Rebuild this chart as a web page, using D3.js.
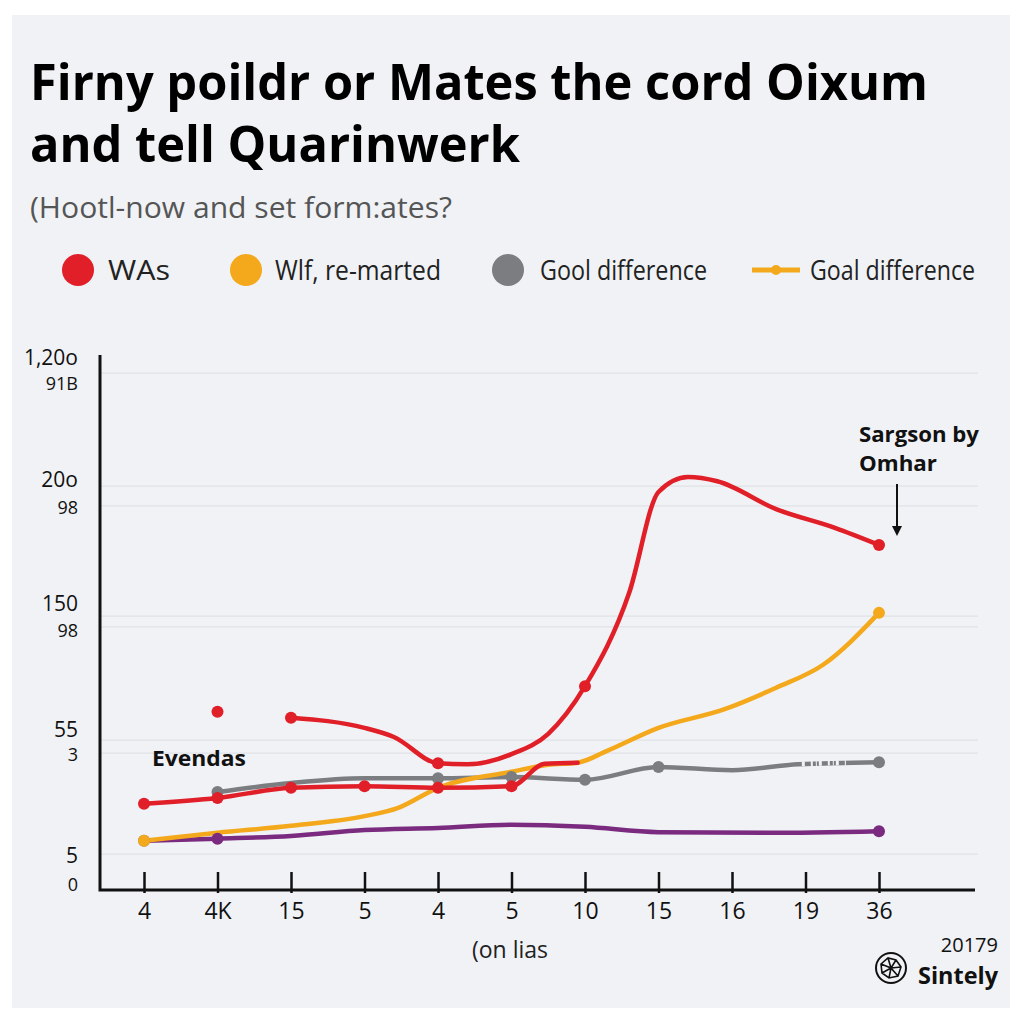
<!DOCTYPE html>
<html><head><meta charset="utf-8">
<script src="https://cdn.jsdelivr.net/npm/d3@7"></script>
<style>html,body{margin:0;padding:0;background:#fff;}svg{display:block;}</style>
</head><body>
<svg id="c" width="1024" height="1024"></svg>
<script>
// ---- data ----
const xLabels = ["4","4K","15","5","4","5","10","15","16","19","36"];
const yTickValues = [96.6, 75.5, 71.8, 51.2, 49.2, 28.0, 25.6, 6.7];
const yTickLabelsUpper = ["1,20o","20o","150","55","5"];
const yTickLabelsLower = ["91B","98","98","3","0"];
const yLabelUpperValues = [99.5, 76.6, 53.5, 29.9, 6.3];
const yLabelLowerValues = [95.0, 71.8, 48.8, 25.6, 1.3];
// series: [index, value]
const redUpper = [[2,32.2],[3,30.3],[3.4,28.6],[4,23.7],[4.4,23.5],[5,25.4],[5.5,29.2],[6,38.1],[6.6,55.5],[7,74.4],[7.4,77.2],[7.8,76.4],[8.6,71.2],[9.4,67.7],[10,64.5]];
const redIsolated = [[1,33.3]];
const redLower = [[0,16.1],[1,17.2],[2,19.1],[3,19.4],[4,19.1],[5,19.4],[5.45,23.6],[5.9,23.8]];
const orange = [[0,9.2],[1,10.7],[2,12.0],[3,13.8],[3.45,15.3],[4,19.1],[5,22.1],[5.5,23.4],[5.9,23.8],[6.3,26.0],[7,30.3],[7.9,33.8],[8.6,37.8],[9.24,42.1],[10,51.8]];
const gray = [[1,18.3],[2,20.0],[3,20.9],[4,20.9],[5,21.1],[6,20.6],[7,23.0],[8,22.4],[8.9,23.5],[10,23.9]];
const purple = [[0,9.2],[1,9.6],[2,10.1],[3,11.2],[4,11.6],[5,12.2],[6,11.8],[7,10.8],[8.5,10.7],[10,11.0]];
const redLowerDots = [0,1,2,3,4,5];
const redUpperDots = [2,4,6,10];
const orangeDots = [0,10];
const grayDots = [0,1,4,5,6,7,10];
const purpleDots = [1,10];
const legendItems = [
  {label:"WAs", color:"#e01f28", type:"dot"},
  {label:"Wlf, re-marted", color:"#f4a81c", type:"dot"},
  {label:"Gool difference", color:"#7b7d80", type:"dot"},
  {label:"Goal difference", color:"#f4a81c", type:"line"}
];

const svg = d3.select("#c");
const C = {red:"#e01f28", orange:"#f4a81c", gray:"#7b7d80", purple:"#7a2a7f"};

// card background
svg.append("rect").attr("x",12).attr("y",15).attr("width",998).attr("height",993).attr("fill","#f0f2f5");

// title
const tf = "'Open Sans', 'Noto Sans', sans-serif";
svg.append("text").attr("x",30).attr("y",100).attr("font-family",tf).attr("font-weight",700)
  .attr("font-size",50).attr("fill","#000").attr("textLength",898).attr("lengthAdjust","spacingAndGlyphs")
  .text("Firny poildr or Mates the cord Oixum");
svg.append("text").attr("x",30).attr("y",162).attr("font-family",tf).attr("font-weight",700)
  .attr("font-size",50).attr("fill","#000").attr("textLength",490).attr("lengthAdjust","spacingAndGlyphs")
  .text("and tell Quarinwerk");
svg.append("text").attr("x",30).attr("y",218).attr("font-family",tf).attr("font-weight",400)
  .attr("font-size",30).attr("fill","#555").attr("textLength",422).attr("lengthAdjust","spacingAndGlyphs")
  .text("(Hootl-now and set form:ates?");

// legend
const legX = [78, 246, 508, 776];
const legTX = [108, 275, 540, 810];
const legW = [62, 166, 167, 165];
legendItems.forEach((d,i)=>{
  const g = svg.append("g");
  if(d.type==="dot"){
    g.append("circle").attr("cx",legX[i]).attr("cy",270).attr("r",16).attr("fill",d.color);
  } else {
    g.append("line").attr("x1",752).attr("x2",800).attr("y1",270).attr("y2",270).attr("stroke",d.color).attr("stroke-width",5);
    g.append("circle").attr("cx",776).attr("cy",270).attr("r",5).attr("fill",d.color);
  }
  g.append("text").attr("x",legTX[i]).attr("y",280).attr("font-family",tf).attr("font-size",27)
    .attr("fill","#222").attr("textLength",legW[i]).attr("lengthAdjust","spacingAndGlyphs").text(d.label);
});

// scales
const x = d3.scaleLinear().domain([0,10]).range([144,879]);
const y = d3.scaleLinear().domain([0,100]).range([890,355]);

// gridlines
svg.append("g").selectAll("line").data(yTickValues).join("line")
  .attr("x1",100).attr("x2",978).attr("y1",d=>y(d)).attr("y2",d=>y(d))
  .attr("stroke","#dfe2e7").attr("stroke-width",1.2);

// y labels
svg.append("g").selectAll("text").data(yTickLabelsUpper).join("text")
  .attr("x",78).attr("y",(d,i)=>y(yLabelUpperValues[i])+7).attr("text-anchor","end")
  .attr("font-family",tf).attr("font-size",21).attr("fill","#111").text(d=>d);
svg.append("g").selectAll("text").data(yTickLabelsLower).join("text")
  .attr("x",78).attr("y",(d,i)=>y(yLabelLowerValues[i])+8).attr("text-anchor","end")
  .attr("font-family",tf).attr("font-size",18).attr("fill","#111").text(d=>d);

// axes
const xAxis = d3.axisBottom(x).tickValues(d3.range(xLabels.length)).tickFormat(i=>xLabels[i]).tickSize(0).tickPadding(0);
const gx = svg.append("g").attr("transform","translate(0,890)").call(xAxis);
gx.select(".domain").remove();
gx.selectAll(".tick line").remove();
gx.selectAll(".tick").append("line").attr("y1",-18).attr("y2",3).attr("stroke","#111").attr("stroke-width",2.5);
gx.selectAll(".tick text").attr("y",29).attr("dy",0).attr("font-family",tf).attr("font-size",23).attr("fill","#111");
svg.append("path").attr("d","M100,355 V890 H975").attr("fill","none").attr("stroke","#111").attr("stroke-width",3);

svg.append("text").attr("x",510).attr("y",958).attr("text-anchor","middle").attr("font-family",tf)
  .attr("font-size",23).attr("fill","#222").text("(on lias");

// lines
const line = d3.line().x(d=>x(d[0])).y(d=>y(d[1])).curve(d3.curveMonotoneX);
const drawLine=(data,color)=>svg.append("path").datum(data).attr("d",line).attr("fill","none")
  .attr("stroke",color).attr("stroke-width",4.5).attr("stroke-linejoin","round").attr("stroke-linecap","round");
drawLine(purple,C.purple);
drawLine(gray,C.gray);
drawLine(orange,C.orange);
drawLine(redLower,C.red);
drawLine(redUpper,C.red);

// gray dashed gap near the end
svg.append("line").attr("x1",x(8.95)).attr("x2",x(9.55)).attr("y1",y(23.6)).attr("y2",y(23.8))
  .attr("stroke","#f0f2f5").attr("stroke-width",5).attr("stroke-dasharray","3,6,2,3,1,2");

const valAt=(arr,i)=>arr.find(d=>d[0]===i)[1];
const dots=(arr,idx,color)=>svg.append("g").selectAll("circle").data(idx).join("circle")
  .attr("cx",i=>x(i)).attr("cy",i=>y(valAt(arr,i))).attr("r",6).attr("fill",color);
dots(purple,purpleDots,C.purple);
dots(gray.concat([[0,9.2]]),grayDots,C.gray);
dots(orange,orangeDots,C.orange);
dots(redLower,redLowerDots,C.red);
dots(redUpper,redUpperDots,C.red);
dots(redIsolated,[1],C.red);

// annotations
const bf = "'Open Sans', 'Noto Sans', sans-serif";
svg.append("text").attr("x",152).attr("y",766).attr("font-family",bf).attr("font-weight",700)
  .attr("font-size",22).attr("fill","#111").attr("textLength",94).attr("lengthAdjust","spacingAndGlyphs").text("Evendas");
svg.append("text").attr("x",859).attr("y",442).attr("font-family",bf).attr("font-weight",700)
  .attr("font-size",22).attr("fill","#111").attr("textLength",120).attr("lengthAdjust","spacingAndGlyphs").text("Sargson by");
svg.append("text").attr("x",859).attr("y",471).attr("font-family",bf).attr("font-weight",700)
  .attr("font-size",22).attr("fill","#111").attr("textLength",78).attr("lengthAdjust","spacingAndGlyphs").text("Omhar");
svg.append("line").attr("x1",897).attr("x2",897).attr("y1",484).attr("y2",528).attr("stroke","#111").attr("stroke-width",2);
svg.append("path").attr("d","M892,526 L897,536 L902,526 Z").attr("fill","#111");

// footer
svg.append("text").attr("x",998).attr("y",952).attr("text-anchor","end").attr("font-family",tf)
  .attr("font-size",20).attr("fill","#111").text("20179");
svg.append("text").attr("x",918).attr("y",984).attr("font-family",bf).attr("font-weight",700)
  .attr("font-size",24).attr("fill","#111").attr("textLength",80).attr("lengthAdjust","spacingAndGlyphs").text("Sintely");
const lg = svg.append("g").attr("transform","translate(891,968)");
lg.append("circle").attr("r",15).attr("fill","none").attr("stroke","#111").attr("stroke-width",2);
lg.append("path").attr("d","M-10,-4 L-3,-10 L5,-8 L10,-1 L7,8 L-2,10 L-9,5 Z M-3,-10 L0,0 L7,8 M0,0 L-9,5 M0,0 L10,-1 M-10,-4 L0,0 M5,-8 L0,0 M-2,10 L0,0")
  .attr("fill","none").attr("stroke","#111").attr("stroke-width",1.6);
</script>
</body></html>
